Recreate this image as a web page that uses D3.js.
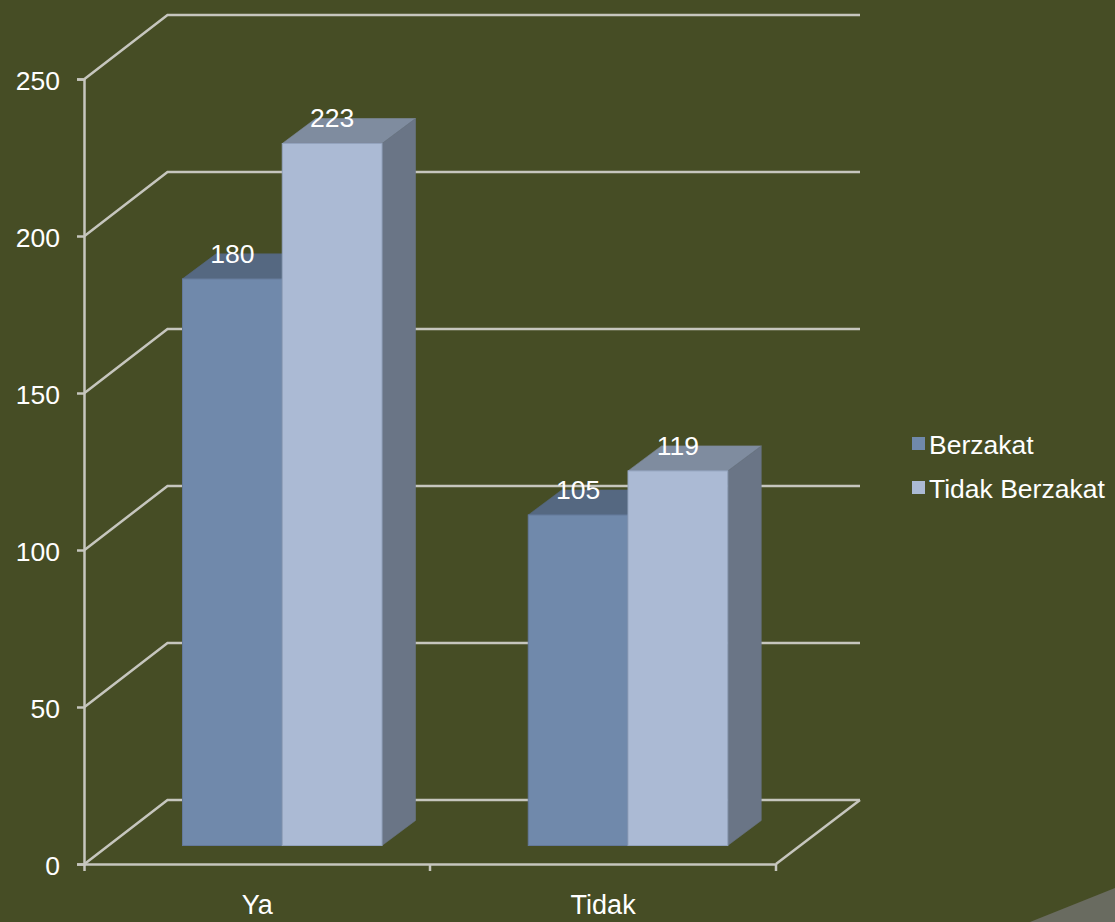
<!DOCTYPE html>
<html><head><meta charset="utf-8">
<script src="https://cdnjs.cloudflare.com/ajax/libs/d3/7.8.5/d3.min.js"></script>
<style>
html,body{margin:0;padding:0;background:#464d25;overflow:hidden}
text{font-family:"Liberation Sans",Arial,sans-serif;fill:#fff}
</style></head><body>
<svg id="c" width="1115" height="922"></svg>
<script>
const categories = ["Ya", "Tidak"];
const seriesNames = ["Berzakat", "Tidak Berzakat"];
const berzakat = [180, 105];
const tidakBerzakat = [223, 119];
const yTicks = [0, 50, 100, 150, 200, 250];

const seriesValues = [berzakat, tidakBerzakat];
const colors = [
  {front:"#7089ab", top:"#556881", side:"#556478"},
  {front:"#abbad4", top:"#7f8c9f", side:"#6a7586"}
];
const gridColor = "#c6c6be";
const svg = d3.select("#c");
const W = 1115, H = 922;

svg.append("rect").attr("width",W).attr("height",H).attr("fill","#464d25");
svg.append("polygon").attr("points",`1030,922 1115,888 1115,922`).attr("fill","#696b60");

const x = d3.scaleBand().domain(categories).range([84.5,776]).padding(0);
const y = d3.scaleLinear().domain([0,250]).range([864,79]);
const depthX = 83, depthY = -64;

// grid: side wall + back wall
const grid = svg.append("g").attr("fill","none").attr("stroke",gridColor).attr("stroke-width",2.5);
grid.selectAll("path").data(yTicks).join("path")
  .attr("d", d => { const p=d3.path(); p.moveTo(84.5,y(d)); p.lineTo(84.5+depthX,y(d)+depthY); p.lineTo(860,y(d)+depthY); return p.toString(); });
// floor right edge
grid.append("path").attr("d",()=>{const p=d3.path();p.moveTo(860,y(0)+depthY);p.lineTo(776,y(0));return p.toString();});

// axes
const axisL = svg.append("g").attr("transform","translate(84,0)")
  .call(d3.axisLeft(y).tickValues(yTicks).tickSize(7).tickPadding(17).tickFormat(d3.format("d")));
const axisB = svg.append("g").attr("transform","translate(0,864)")
  .call(d3.axisBottom(x).tickSize(0).tickPadding(31));
svg.append("g").attr("transform","translate(0,864)")
  .selectAll("line").data([84.5,430,776]).join("line")
  .attr("x1",d=>d).attr("x2",d=>d).attr("y1",0).attr("y2",7)
  .attr("stroke",gridColor).attr("stroke-width",2.5);
[axisL,axisB].forEach(a=>{
  a.selectAll(".domain,line").attr("stroke",gridColor).attr("stroke-width",2.5);
  a.selectAll("text").attr("font-size",26.5).attr("fill","#fff").style("font-family",'"Liberation Sans",Arial,sans-serif');
});
axisL.selectAll(".tick text").attr("dy","0.39em");
axisB.selectAll(".tick text").attr("font-size",27);

// bars
const inner = d3.scaleBand().domain(d3.range(seriesNames.length)).range([98.5,298]);
const barY = d3.scaleLinear().domain([0,250]).range([845.5,58.5]);
const dx = 33.5, dy = -25;
const flat = [];
seriesValues.forEach((vals,s)=>vals.forEach((v,c)=>flat.push({s,c,v})));
const bars = svg.append("g");
flat.forEach(d=>{
  const g = bars.append("g");
  const x0 = x.range()[0]-0.5 + d.c*x.bandwidth() + inner(d.s), x1 = x0+inner.bandwidth();
  const t = barY(d.v), b = barY(0), col = colors[d.s];
  g.append("polygon").attr("points",[[x0,t],[x0+dx,t+dy],[x1+dx,t+dy],[x1,t]].join(" ")).attr("fill",col.top).attr("stroke",col.top).attr("stroke-width",.6);
  g.append("polygon").attr("points",[[x1,t],[x1+dx,t+dy],[x1+dx,b+dy],[x1,b]].join(" ")).attr("fill",col.side).attr("stroke",col.side).attr("stroke-width",.6);
  g.append("rect").attr("x",x0).attr("y",t).attr("width",x1-x0).attr("height",b-t).attr("fill",col.front).attr("stroke",d.s?"#93a3bd":"#64799a").attr("stroke-width",1);
});
bars.selectAll("text").data(flat).join("text")
  .attr("x",d=>x.range()[0]-0.5 + d.c*x.bandwidth() + inner(d.s)+inner.bandwidth()/2)
  .attr("y",d=>barY(d.v)-16)
  .attr("text-anchor","middle").attr("font-size",26.5).text(d=>d.v);

// legend
const legY = d3.scalePoint().domain(seriesNames).range([444,488]);
const leg = svg.append("g").selectAll("g").data(seriesNames).join("g").attr("transform",d=>`translate(912,${legY(d)})`);
leg.append("rect").attr("x",0).attr("y",-7).attr("width",13).attr("height",13).attr("fill",(d,i)=>colors[i].front);
leg.append("text").attr("x",17).attr("y",10).attr("font-size",26.5).text(d=>d);
</script>
</body></html>
